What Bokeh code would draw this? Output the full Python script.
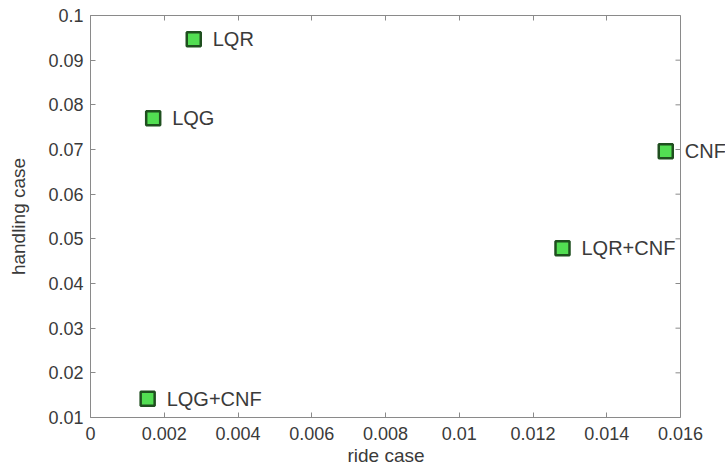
import math
from bokeh.plotting import figure
from bokeh.models import (Range1d, LinearAxis, FixedTicker, Label, Span, Title,
                          ColumnDataSource, CustomJSTickFormatter)
from bokeh.embed import file_html
from bokeh.resources import INLINE

# ---- data ----
methods = ["LQR", "LQG", "CNF", "LQR+CNF", "LQG+CNF"]
ride_case = [0.0028, 0.0017, 0.0156, 0.0128, 0.00155]
handling_case = [0.0947, 0.0770, 0.0696, 0.0479, 0.0142]

x_ticks = [0, 0.002, 0.004, 0.006, 0.008, 0.01, 0.012, 0.014, 0.016]
x_tick_labels = ["0", "0.002", "0.004", "0.006", "0.008", "0.01", "0.012", "0.014", "0.016"]
y_ticks = [0.01, 0.02, 0.03, 0.04, 0.05, 0.06, 0.07, 0.08, 0.09, 0.1]
y_tick_labels = ["0.01", "0.02", "0.03", "0.04", "0.05", "0.06", "0.07", "0.08", "0.09", "0.1"]
x_title = "ride case"
y_title = "handling case"

FONT = "Liberation Sans"
TXT = "#3a3a3a"
AXC = "#8a8a8a"

# frame is extended to the right so that point labels may run past the box edge
BOX_PX, FRAME_PX = 590, 635
x_lo, x_hi = x_ticks[0], x_ticks[-1]
x_end = x_lo + (x_hi - x_lo) * FRAME_PX / BOX_PX

src = ColumnDataSource(dict(x=ride_case, y=handling_case, name=methods))

p = figure(width=725, height=468,
           x_range=Range1d(x_lo, x_end),
           y_range=Range1d(y_ticks[0], y_ticks[-1]),
           output_backend="svg", toolbar_location=None,
           min_border_left=90, min_border_right=0,
           min_border_top=15, min_border_bottom=51)

p.background_fill_color = "white"
p.border_fill_color = "white"
p.outline_line_color = None
p.xgrid.visible = False
p.ygrid.visible = False

p.xaxis.ticker = FixedTicker(ticks=x_ticks)
p.yaxis.ticker = FixedTicker(ticks=y_ticks)
p.xaxis.bounds = (x_lo, x_hi)
p.xaxis.major_label_overrides = {t: l for t, l in zip(x_ticks, x_tick_labels)}
p.yaxis.major_label_overrides = {t: l for t, l in zip(y_ticks, y_tick_labels)}
p.yaxis.axis_label = y_title

for ax in (p.xaxis[0], p.yaxis[0]):
    ax.axis_line_color = AXC
    ax.major_tick_line_color = AXC
    ax.major_tick_in = 5
    ax.major_tick_out = 0
    ax.minor_tick_line_color = None
    ax.major_label_text_font = FONT
    ax.major_label_text_font_size = "18px"
    ax.major_label_text_color = TXT
    ax.axis_label_text_font = FONT
    ax.axis_label_text_font_size = "19px"
    ax.axis_label_text_font_style = "normal"
    ax.axis_label_text_color = TXT

p.xaxis.major_label_standoff = 9
p.yaxis.major_label_standoff = 7
p.yaxis.axis_label_standoff = 16

# x-axis title centred under the box (not under the wider frame)
p.add_layout(Title(text=x_title, align="left", offset=257, standoff=0,
                   text_font=FONT, text_font_size="19px", text_font_style="normal",
                   text_color=TXT), "below")

blank = CustomJSTickFormatter(code="return ''")
top = LinearAxis(ticker=FixedTicker(ticks=x_ticks), formatter=blank, bounds=(x_lo, x_hi),
                 axis_line_color=AXC, major_tick_line_color=AXC,
                 major_tick_in=5, major_tick_out=0, minor_tick_line_color=None,
                 major_label_standoff=0, major_label_text_font_size="1px")
p.add_layout(top, "above")

# right edge of the box with inward ticks
p.add_layout(Span(location=x_hi, dimension="height", line_color=AXC, line_width=1))
p.ray(x=[x_hi] * len(y_ticks), y=y_ticks, length=5, length_units="screen",
      angle=math.pi, line_color=AXC, line_width=1)

p.scatter("x", "y", source=src, marker="square", size=14,
          fill_color="#52de52", line_color="#1f4f1f", line_width=2.5)

for xv, yv, name in zip(ride_case, handling_case, methods):
    p.add_layout(Label(x=xv, y=yv, text=name, x_offset=19, y_offset=0,
                       text_font=FONT, text_font_size="20px",
                       text_color=TXT, text_baseline="middle", text_align="left"))

open("out.html", "w").write(file_html(p, INLINE))
